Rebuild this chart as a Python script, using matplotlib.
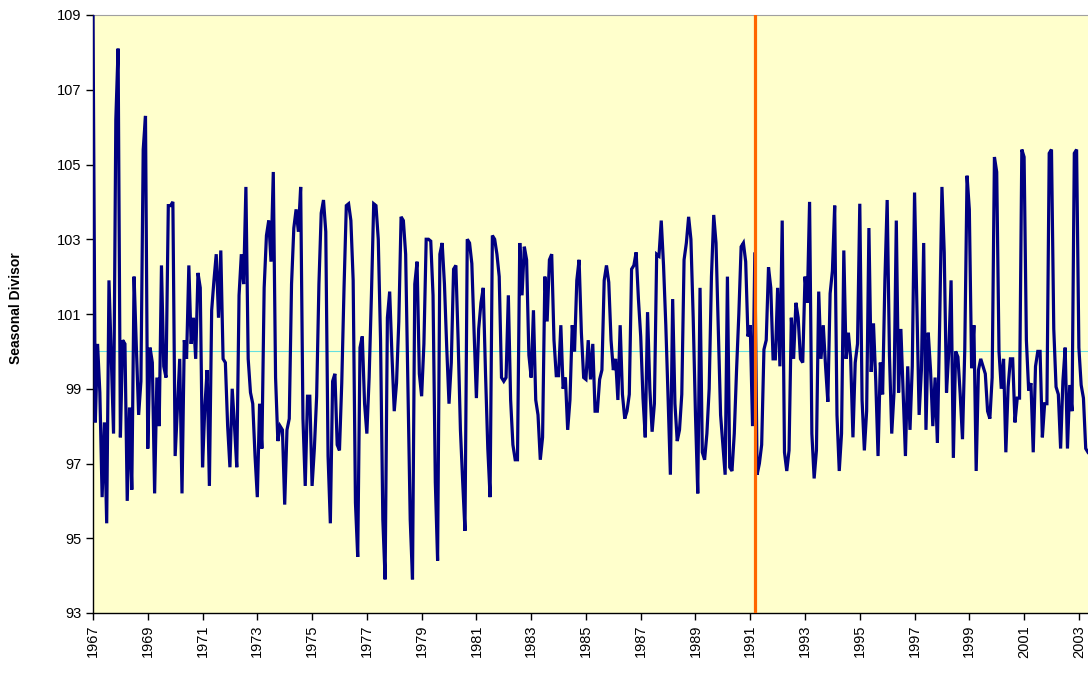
import numpy as np
import matplotlib
matplotlib.use("Agg")
import matplotlib.pyplot as plt

plt.rcParams['font.family'] = ['Liberation Sans', 'DejaVu Sans']

start_year = 1967
break_year, break_month = 1991, 3

y1967 = [109.0, 98.1, 100.2, 98.9, 96.1, 98.1, 95.4, 101.9, 99.8, 97.8, 106.2, 108.1]
y1968 = [97.7, 100.3, 100.2, 96.0, 98.5, 96.3, 102.0, 100.1, 98.3, 99.2, 105.4, 106.3]
y1969 = [97.4, 100.1, 99.7, 96.2, 99.3, 98.0, 102.3, 99.6, 99.3, 103.9, 103.9, 104.0]
y1970 = [97.2, 98.5, 99.8, 96.2, 100.3, 99.8, 102.3, 100.2, 100.9, 99.8, 102.1, 101.7]
y1971 = [96.9, 98.5, 99.5, 96.4, 101.1, 101.9, 102.6, 100.9, 102.7, 99.8, 99.7, 98.0]
y1972 = [96.9, 99.0, 98.0, 96.9, 101.5, 102.6, 101.8, 104.4, 99.8, 98.9, 98.6, 97.2]
y1973 = [96.1, 98.6, 97.4, 101.7, 103.1, 103.5, 102.4, 104.8, 99.3, 97.6, 98.0, 97.9]
y1974 = [95.9, 97.9, 98.2, 101.8, 103.3, 103.8, 103.2, 104.4, 98.2, 96.4, 98.8, 98.8]
y1975 = [96.4, 97.4, 98.8, 101.8, 103.7, 104.05, 103.2, 97.2, 95.4, 99.2, 99.4, 97.5]
y1976 = [97.35, 99.15, 101.7, 103.9, 103.95, 103.5, 101.9, 95.95, 94.5, 100.1, 100.4, 98.6]
y1977 = [97.8, 99.3, 101.5, 103.95, 103.9, 103.0, 100.3, 95.5, 93.9, 100.9, 101.6, 99.9]
y1978 = [98.4, 99.15, 100.8, 103.6, 103.5, 102.6, 99.05, 95.5, 93.9, 101.8, 102.4, 99.4]
y1979 = [98.8, 100.2, 103.0, 103.0, 102.95, 101.5, 96.5, 94.4, 102.6, 102.9, 101.8, 100.1]
y1980 = [98.6, 99.7, 102.2, 102.3, 100.3, 97.9, 96.5, 95.2, 103.0, 102.9, 102.35, 100.5]
y1981 = [98.75, 100.6, 101.3, 101.7, 99.4, 97.4, 96.1, 103.1, 103.0, 102.6, 102.0, 99.3]
y1982 = [99.2, 99.3, 101.5, 98.7, 97.5, 97.1, 97.1, 102.9, 101.5, 102.8, 102.45, 99.9]
y1983 = [99.3, 101.1, 98.7, 98.3, 97.1, 97.7, 102.0, 100.8, 102.45, 102.6, 100.3, 99.35]
y1984 = [99.35, 100.7, 99.0, 99.3, 97.9, 98.7, 100.7, 100.0, 101.9, 102.45, 100.5, 99.3]
y1985 = [99.25, 100.3, 99.25, 100.2, 98.4, 98.4, 99.25, 99.5, 101.9, 102.3, 101.85, 100.3]
y1986 = [99.5, 99.8, 98.7, 100.7, 98.85, 98.2, 98.4, 98.85, 102.2, 102.3, 102.65, 101.4]
y1987 = [100.4, 98.75, 97.7, 101.05, 99.0, 97.85, 98.6, 102.6, 102.55, 103.5, 102.3, 100.7]
y1988 = [98.75, 96.7, 101.4, 98.6, 97.6, 97.9, 98.85, 102.45, 102.9, 103.6, 103.0, 100.9]
y1989 = [98.3, 96.2, 101.7, 97.3, 97.1, 97.8, 99.0, 102.0, 103.65, 102.9, 100.6, 98.3]
y1990 = [97.5, 96.7, 102.0, 96.9, 96.8, 97.8, 99.5, 101.0, 102.8, 102.9, 102.4, 100.4]
y1991 = [100.7, 98.0, 102.65, 96.7, 97.0, 97.5, 100.05, 100.3, 102.25, 101.7, 99.8, 99.8]
y1992 = [101.7, 99.6, 103.5, 97.3, 96.8, 97.35, 100.9, 99.8, 101.3, 100.9, 99.8, 99.7]
y1993 = [102.0, 101.3, 104.0, 97.8, 96.6, 97.35, 101.6, 99.8, 100.7, 99.6, 98.65, 101.55]
y1994 = [102.15, 103.9, 98.3, 96.8, 97.8, 102.7, 99.8, 100.5, 99.8, 97.7, 99.7, 100.2]
y1995 = [103.95, 98.7, 97.35, 98.4, 103.3, 99.45, 100.75, 99.2, 97.2, 99.7, 98.85, 101.9]
y1996 = [104.05, 99.9, 97.8, 98.9, 103.5, 98.9, 100.6, 98.9, 97.2, 99.6, 97.9, 99.6]
y1997 = [104.25, 101.3, 98.3, 99.5, 102.9, 97.9, 100.5, 99.5, 98.0, 99.3, 97.55, 100.75]
y1998 = [104.4, 102.65, 98.9, 100.0, 101.9, 97.15, 100.0, 99.85, 98.85, 97.65, 100.05, 104.7]
y1999 = [103.8, 99.55, 100.7, 96.8, 99.5, 99.8, 99.6, 99.4, 98.4, 98.2, 99.3, 105.2]
y2000 = [104.8, 100.0, 99.0, 99.8, 97.3, 99.05, 99.8, 99.8, 98.1, 98.75, 98.75, 105.4]
y2001 = [105.2, 100.3, 98.95, 99.15, 97.3, 99.6, 100.0, 100.0, 97.7, 98.6, 98.6, 105.3]
y2002 = [105.4, 100.6, 99.05, 98.85, 97.4, 99.2, 100.1, 97.4, 99.1, 98.4, 105.3, 105.4]
y2003 = [100.1, 99.1, 98.75, 97.4, 97.3]

years = [y1967, y1968, y1969, y1970, y1971, y1972, y1973, y1974, y1975, y1976,
         y1977, y1978, y1979, y1980, y1981, y1982, y1983, y1984, y1985, y1986,
         y1987, y1988, y1989, y1990, y1991, y1992, y1993, y1994, y1995, y1996,
         y1997, y1998, y1999, y2000, y2001, y2002, y2003]
divisor = np.concatenate([np.array(y, dtype=float) for y in years])
n = len(divisor)
idx = np.arange(n)

y_ticks = list(range(93, 110, 2))
tick_idx = list(range(0, n, 24))
tick_labels = [str(start_year + i // 12) for i in tick_idx]
break_idx = (break_year - start_year) * 12 + (break_month - 1)

fig = plt.figure(figsize=(10.88, 6.75), dpi=100)
ax = fig.add_axes([93 / 1088, 1 - 613 / 675, 995 / 1088, 598 / 675])
ax.set_facecolor('#FFFFCC')

ax.axhline(100, color='#66E0E0', lw=0.8, zorder=1)
ax.plot(idx, divisor, color='#000080', lw=2.3, zorder=3, solid_joinstyle='miter')
ax.axvline(break_idx, color='#FF6600', lw=2.3, zorder=4)

ax.set_xlim(0, n - 1)
ax.set_ylim(93, 109)
ax.set_yticks(y_ticks)
ax.set_yticklabels([str(v) for v in y_ticks], fontsize=10.5)
ax.set_xticks(tick_idx)
ax.set_xticklabels(tick_labels, rotation=90, fontsize=10.5)
ax.tick_params(axis='both', direction='out', length=5, width=1, color='black')
ax.set_ylabel('Seasonal Divisor', fontsize=10, fontweight='bold')
ax.yaxis.set_label_coords(-0.07, 0.51)

for s in ['left', 'bottom']:
    ax.spines[s].set_color('black')
    ax.spines[s].set_linewidth(1)
ax.spines['top'].set_color('#A0A0A0')
ax.spines['right'].set_visible(False)

fig.savefig('out.png', dpi=100)
